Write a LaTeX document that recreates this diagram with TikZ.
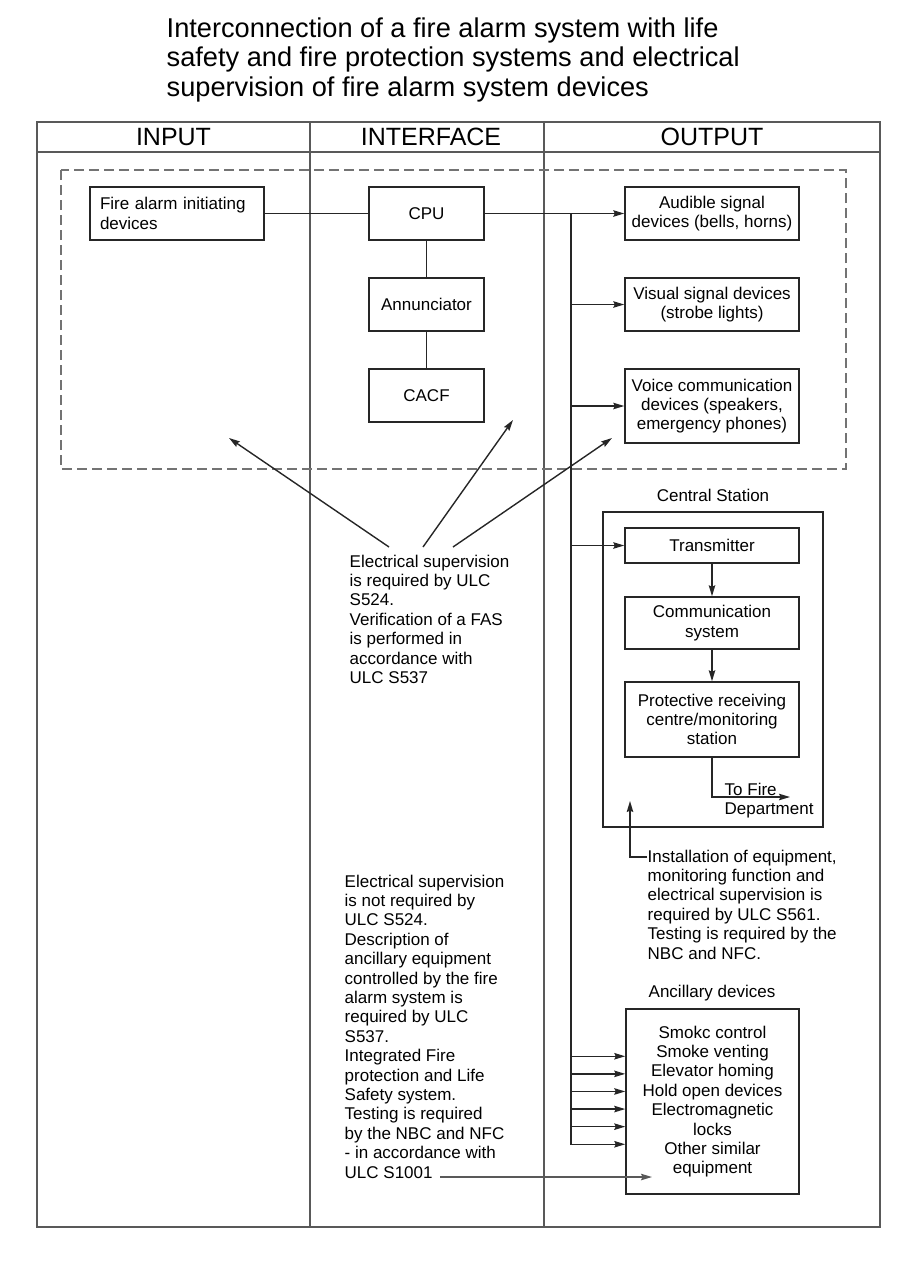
\documentclass[tikz,border=0pt]{standalone}
\usepackage{fontspec}
\setmainfont{Liberation Sans}
\usetikzlibrary{arrows.meta}
\definecolor[named]{FrameGray}{gray}{0.35}
\definecolor[named]{BoxGray}{gray}{0.15}
\definecolor[named]{DashGray}{gray}{0.45}
\newcommand{\bodysize}{\fontsize{17}{19.4}\selectfont}
\newcommand{\headsize}{\fontsize{25}{30}\selectfont}
\tikzset{box/.style={draw=BoxGray,line width=1.5pt,inner sep=2pt,align=center,font=\bodysize}}
\tikzset{note/.style={inner sep=0pt,align=left,anchor=north west,font=\bodysize}}

\begin{document}
\begin{tikzpicture}[x=1pt,y=-1pt,>={Stealth[length=11pt,width=6.5pt,inset=1.5pt]},line width=1.4pt]
  \useasboundingbox (0,0) rectangle (905,1270);
  \node[note,font=\fontsize{27.2}{29.5}\selectfont] (title) at (166,17)
    {Interconnection of a fire alarm system with life\\
     safety and fire protection systems and electrical\\
     supervision of fire alarm system devices};
  % table
  \begin{scope}[draw=FrameGray,line width=1.8pt]
    \draw (37,122) rectangle (880,1227);
    \draw (37,152) -- (880,152);
    \draw (310,122) -- (310,1227);
    \draw (544,122) -- (544,1227);
  \end{scope}
  \node[font=\headsize] (input) at (173.5,137) {INPUT};
  \node[font=\headsize] (iface) at (431,137) {INTERFACE};
  \node[font=\headsize] (output) at (712,137) {OUTPUT};
  \draw[DashGray,line width=1.6pt,dash pattern=on 10pt off 5pt] (61,170) rectangle (846,469);
  % boxes
  \begin{scope}[every node/.style={box}]
    \node[minimum width=174pt,minimum height=53pt,align=left,text width=154pt] (fire) at (177,213.5) {Fire alarm initiating\\devices};
    \node[minimum width=115pt,minimum height=53pt] (cpu) at (426.5,213.5) {CPU};
    \node[minimum width=115pt,minimum height=53pt] (annun) at (426.5,304.5) {Annunciator};
    \node[minimum width=115pt,minimum height=53pt] (cacf) at (426.5,395.5) {CACF};
    \node[minimum width=174pt,minimum height=53pt] (audible) at (712,213.5) {Audible signal\\devices (bells, horns)};
    \node[minimum width=174pt,minimum height=53pt] (visual) at (712,304.5) {Visual signal devices\\(strobe lights)};
    \node[minimum width=174pt,minimum height=74pt] (voice) at (712,406) {Voice communication\\devices (speakers,\\emergency phones)};
    \node[minimum width=220pt,minimum height=315pt] (central) at (713,669.5) {};
    \node[minimum width=174pt,minimum height=35pt] (trans) at (712,545.5) {Transmitter};
    \node[minimum width=174pt,minimum height=52pt] (comm) at (712,623) {Communication\\system};
    \node[minimum width=174pt,minimum height=75pt] (prot) at (712,719.5) {Protective receiving\\centre/monitoring\\station};
    \node[minimum width=173pt,minimum height=185pt] (ancil) at (712.5,1101.5) {Smokc control\\Smoke venting\\Elevator homing\\Hold open devices\\Electromagnetic\\locks\\Other similar\\equipment};
  \end{scope}
  \node[font=\bodysize] (cslabel) at (713,495) {Central Station};
  \node[font=\bodysize] (anlabel) at (712,993) {Ancillary devices};
  % notes
  \node[note] (note1) at (349,554)
    {Electrical supervision\\is required by ULC\\S524.\\Verification of a FAS\\is performed in\\accordance with\\ULC S537};
  \node[note] (note2) at (344,874)
    {Electrical supervision\\is not required by\\ULC S524.\\Description of\\ancillary equipment\\controlled by the fire\\alarm system is\\required by ULC\\S537.\\Integrated Fire\\protection and Life\\Safety system.\\Testing is required\\by the NBC and NFC\\- in accordance with\\ULC S1001};
  \node[note] (install) at (647,849)
    {Installation of equipment,\\monitoring function and\\electrical supervision is\\required by ULC S561.\\Testing is required by the\\NBC and NFC.};
  \node[note] (tofiretext) at (724,782) {To Fire\\Department};
  % connections
  \coordinate (bustop) at (571,213.5);
  \coordinate (busend) at (571,1145);
  \draw[BoxGray] (fire) -- (cpu);
  \draw[BoxGray] (cpu) -- (annun);
  \draw[BoxGray] (annun) -- (cacf);
  \draw[BoxGray,->] (cpu) -- (audible);
  \draw[BoxGray] (bustop) -- (busend);
  \draw[BoxGray,->] (visual.west -| bustop) -- (visual);
  \draw[BoxGray,->] (voice.west -| bustop) -- (voice);
  \draw[BoxGray,->] (trans.west -| bustop) -- (trans);
  \foreach \k in {0,...,5}{
    \path (ancil.north west) ++(0,48+17.6*\k) coordinate (an\k);
    \draw[BoxGray,->] (an\k -| bustop) -- (an\k);
  }
  \draw[BoxGray,->] (trans) -- (comm);
  \draw[BoxGray,->] (comm) -- (prot);
  \coordinate (tofire) at (790,797);
  \draw[BoxGray,->] (prot.south) |- (tofire);
  \coordinate (cstip) at (630,801);
  \draw[BoxGray,->] ([yshift=-8pt]install.north west) -| (cstip);
  % supervision arrows
  \coordinate (tipin) at (229,438);
  \coordinate (tipif) at (513,420);
  \coordinate (tipout) at (612,438);
  \draw[BoxGray,->] ([shift={(40,-7)}]note1.north west) -- (tipin);
  \draw[BoxGray,->] ([shift={(74,-7)}]note1.north west) -- (tipif);
  \draw[BoxGray,->] ([shift={(104,-7)}]note1.north west) -- (tipout);
  \coordinate (s1001) at (440,1177);
  \coordinate (ancilin) at (652,1177);
  \draw[FrameGray,->] (s1001) -- (ancilin);
\end{tikzpicture}
\end{document}
